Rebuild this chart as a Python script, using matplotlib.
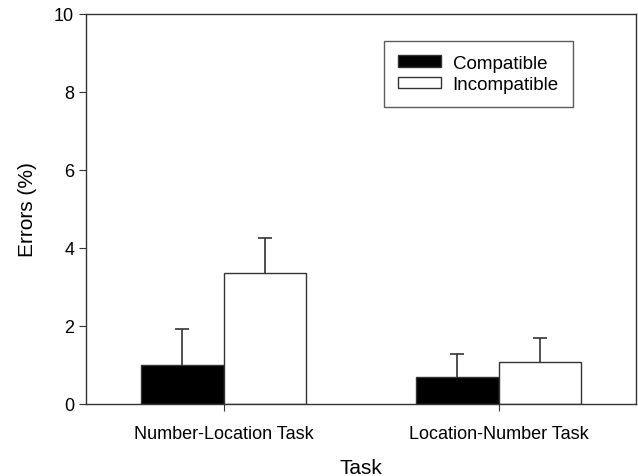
import matplotlib
matplotlib.use("Agg")
import matplotlib.pyplot as plt
import numpy as np

plt.rcParams['font.family'] = ['Liberation Sans', 'DejaVu Sans']

tasks = ["Number-Location Task", "Location-Number Task"]
compatible = [1.01, 0.70]
compatible_err = [0.91, 0.59]
incompatible = [3.36, 1.08]
incompatible_err = [0.90, 0.61]

fig = plt.figure(figsize=(6.38, 4.77), dpi=100)
ax = fig.add_axes([86/638, 72/477, 550/638, 390/477])

x = np.arange(len(tasks))
w = 0.30
ec = '#333333'
ax.bar(x - w/2, compatible, w, color='black', edgecolor=ec, linewidth=1,
       label='Compatible', zorder=2)
ax.bar(x + w/2, incompatible, w, color='white', edgecolor=ec, linewidth=1,
       label='Incompatible', zorder=2)

for xs, vals, errs in [(x - w/2, compatible, compatible_err),
                       (x + w/2, incompatible, incompatible_err)]:
    _, caps, _ = ax.errorbar(xs, vals, yerr=[np.zeros(len(vals)), errs], fmt='none',
                             ecolor=ec, elinewidth=1.2, capsize=5, capthick=1.2, zorder=3)
    caps[0].set_visible(False)

ax.set_xlim(-0.5, 1.5)
ax.set_ylim(0, 10)
ax.set_yticks([0, 2, 4, 6, 8, 10])
ax.set_xticks(x)
ax.set_xticklabels(tasks, fontsize=13)
ax.tick_params(axis='y', labelsize=13, direction='out', length=5, color=ec)
ax.tick_params(axis='x', direction='out', length=5, color=ec, pad=10)
for s in ax.spines.values():
    s.set_color(ec)
    s.set_linewidth(1)

ax.set_xlabel('Task', fontsize=15, labelpad=12)
ax.set_ylabel('Errors (%)', fontsize=15, labelpad=12)

leg = ax.legend(loc='upper left', bbox_to_anchor=(0.542, 0.931), fontsize=13.5,
                frameon=True, fancybox=False, edgecolor=ec,
                handlelength=2.3, handleheight=0.6, handletextpad=0.6,
                borderpad=0.75, labelspacing=0.22, borderaxespad=0)
leg.get_frame().set_linewidth(1)

fig.savefig('out.png', dpi=100)
